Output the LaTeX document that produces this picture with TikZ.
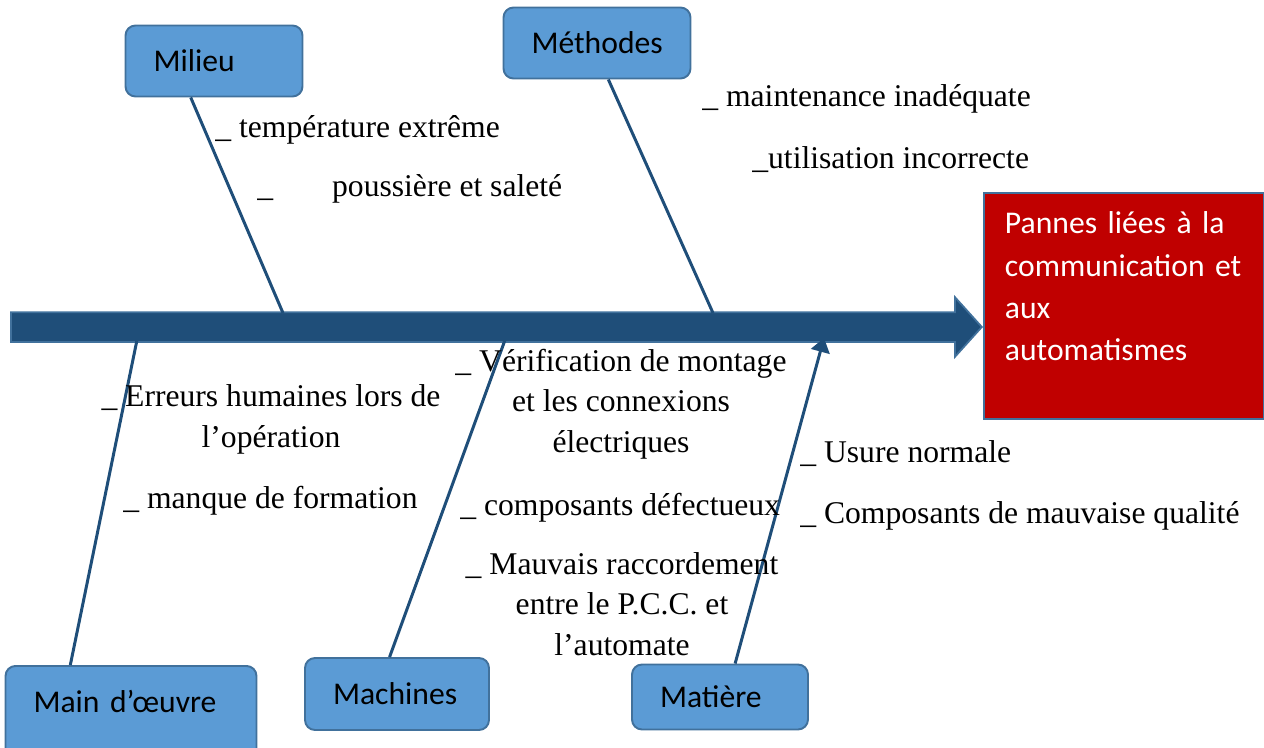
\documentclass[tikz,border=0pt]{standalone}
\usepackage{fontspec}
\setmainfont{Liberation Serif}
\newfontfamily\boxfont[WordSpace=0.8]{Carlito}
\usetikzlibrary{shapes.arrows, arrows.meta, calc}

\definecolor{boxfill}{RGB}{91,155,213}
\definecolor{boxline}{RGB}{65,113,156}
\definecolor{bonecol}{RGB}{31,78,121}
\definecolor{effectfill}{RGB}{192,0,0}

\begin{document}
\begin{tikzpicture}[x=0.02cm, y=-0.02cm]
    \tikzstyle{cause} = [rectangle, rounded corners=0.2cm, draw=boxline, fill=boxfill, line width=1.1pt, font={\boxfont\fontsize{18}{22}\selectfont}, align=left, inner xsep=0.56cm, inner ysep=0.3cm]
    \tikzstyle{effectbox} = [rectangle, draw=boxline, fill=effectfill, line width=1.1pt, text=white, font={\boxfont\fontsize{18}{24.1}\selectfont}, align=left, inner xsep=0.42cm, inner ysep=0.3cm]
    \tikzstyle{item} = [inner sep=0pt, font={\fontsize{18}{22.8}\selectfont}]
    \tikzstyle{bone} = [draw=bonecol, line width=1.7pt]
    \useasboundingbox (0,0) rectangle (1264,747);
    % effect and main spine
    \node (effect) [effectbox, anchor=north west, text width=4.76cm, text height=0.52cm, text depth=3.4cm] at (983,192) {Pannes liées à la\\communication et\\aux\\automatismes};
    \node (spine) [single arrow, draw=boxline, fill=bonecol, line width=1pt, minimum height=19.42cm, inner xsep=0pt, inner ysep=0.28cm, single arrow head extend=0.3cm, single arrow tip angle=96, single arrow head indent=0cm, anchor=tip] at (983,327) {};
    % the five causes
    \node (milieu) [cause, text width=2.42cm, minimum height=1.42cm] at (214,61) {Milieu};
    \node (methodes) [cause, text width=2.62cm, minimum height=1.42cm] at (597,43) {Méthodes};
    \node (oeuvre) [cause, text width=3.9cm, anchor=north, text height=0.64cm, text depth=1cm] at (131,665) {Main d’œuvre};
    \node (machines) [cause, text width=2.56cm, minimum height=1.44cm] at (397,694) {Machines};
    \node (matiere) [cause, text width=2.4cm, minimum height=1.3cm] at (720,697) {Matière};
    % where the bones meet the spine
    \coordinate (milieuend) at (283,313);
    \coordinate (methodesend) at (713,313);
    \coordinate (oeuvreend) at (137,340);
    \coordinate (machinesend) at (505,340);
    \coordinate (matiereend) at (824,338);
    \draw [bone] ($(milieu.south west)!.37!(milieu.south east)$) -- (milieuend);
    \draw [bone] ($(methodes.south west)!.56!(methodes.south east)$) -- (methodesend);
    \draw [bone] ($(oeuvre.north west)!.26!(oeuvre.north east)$) -- (oeuvreend);
    \draw [bone] ($(machines.north west)!.46!(machines.north east)$) -- (machinesend);
    \draw [bone, -{Triangle[length=0.28cm, width=0.38cm]}] ($(matiere.north west)!.585!(matiere.north east)$) -- (matiereend);
    % sub-causes (multi-line ones sit on their last baseline)
    \node (temp) [item, anchor=base west] at (215,137) {\_ température extrême};
    \node (dust) [item, anchor=base west] at (257,196) {\_\hspace{1.18cm}poussière et saleté};
    \node (maint) [item, anchor=base west] at (702,106) {\_ maintenance inadéquate};
    \node (usage) [item, anchor=base west] at (752,168) {\_utilisation incorrecte};
    \node (errors) [item, align=center, anchor=base] at (271,447) {\_ Erreurs humaines lors de\\l’opération};
    \node (training) [item, anchor=base west] at (123,508) {\_ manque de formation};
    \node (check) [item, align=center, anchor=base] at (621,452) {\_ Vérification de montage\\et les connexions\\électriques};
    \node (faulty) [item, anchor=base west] at (460,515) {\_ composants défectueux};
    \node (wiring) [item, align=center, anchor=base] at (622,655) {\_ Mauvais raccordement\\entre le P.C.C. et\\l’automate};
    \node (wear) [item, anchor=base west] at (800,462) {\_ Usure normale};
    \node (quality) [item, anchor=base west] at (800,523) {\_ Composants de mauvaise qualité};
\end{tikzpicture}
\end{document}
